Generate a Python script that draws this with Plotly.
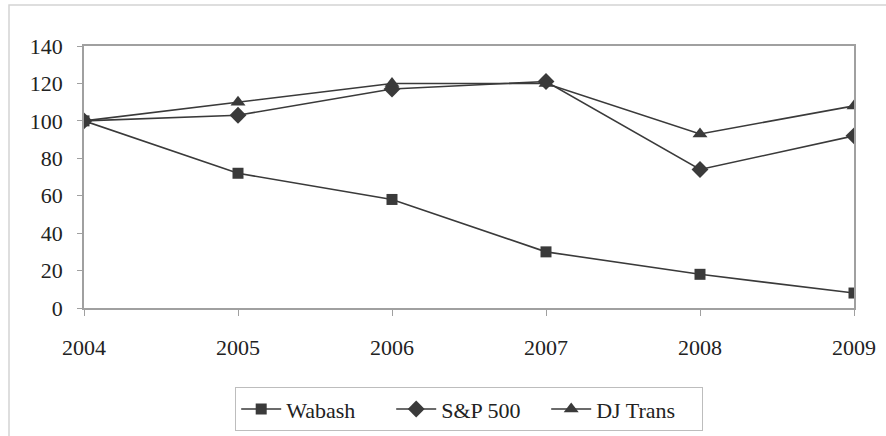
import plotly.graph_objects as go

years = [2004, 2005, 2006, 2007, 2008, 2009]
wabash = [100, 72, 58, 30, 18, 8]
sp500 = [100, 103, 117, 121, 74, 92]
djtrans = [100, 110, 120, 120, 93, 108]

y_ticks = [0, 20, 40, 60, 80, 100, 120, 140]

FONT = "Liberation Serif, 'Times New Roman', Times, serif"
LINE = "#3a3a3a"

fig = go.Figure()
series = [
    ("Wabash", wabash, "square", 11),
    ("S&P 500", sp500, "diamond", 13),
    ("DJ Trans", djtrans, "triangle-up", 13),
]
for name, vals, sym, sz in series:
    fig.add_trace(go.Scatter(
        x=years, y=vals, name=name, mode="lines+markers",
        line=dict(color=LINE, width=1.6),
        marker=dict(symbol=sym, size=sz, color=LINE),
    ))

L, R, T, B = 84, 32, 46, 128
W, H = 886, 436
pw = W - L - R
ph = H - T - B

fig.add_shape(type="rect", xref="paper", yref="paper",
              x0=(9 - L) / pw, x1=(W + 20 - L) / pw,
              y0=(H - B - (H + 20)) / ph, y1=(H - B - 5) / ph,
              line=dict(color="#d4d4d4", width=1.5), layer="below")

fig.update_layout(
    width=W, height=H,
    margin=dict(l=L, r=R, t=T, b=B, autoexpand=False),
    paper_bgcolor="white", plot_bgcolor="white",
    font=dict(family=FONT, size=22, color="#222"),
    showlegend=True,
    legend=dict(orientation="h", x=0.5, xanchor="center",
                y=(H - B - 387) / ph, yanchor="top",
                bordercolor="#bdbdbd", borderwidth=1.2,
                font=dict(family=FONT, size=22, color="#222"),
                itemwidth=40, entrywidth=100, tracegroupgap=0),
    xaxis=dict(range=[2004, 2009], tickvals=years, ticktext=[str(y) for y in years],
               showgrid=False, zeroline=False, showline=True, linecolor="#a0a0a0",
               linewidth=1.5, mirror=True, ticks="outside", ticklen=6,
               tickcolor="#a0a0a0", ticklabelstandoff=13),
    yaxis=dict(range=[0, 140], tickvals=y_ticks,
               showgrid=False, zeroline=False, showline=True, linecolor="#a0a0a0",
               linewidth=1.5, mirror=True, ticks="outside", ticklen=5,
               tickcolor="#a0a0a0", ticklabelstandoff=10),
)

fig.write_html("out.html", config={"displayModeBar": False},
               post_script="document.body.style.margin='0px';")
